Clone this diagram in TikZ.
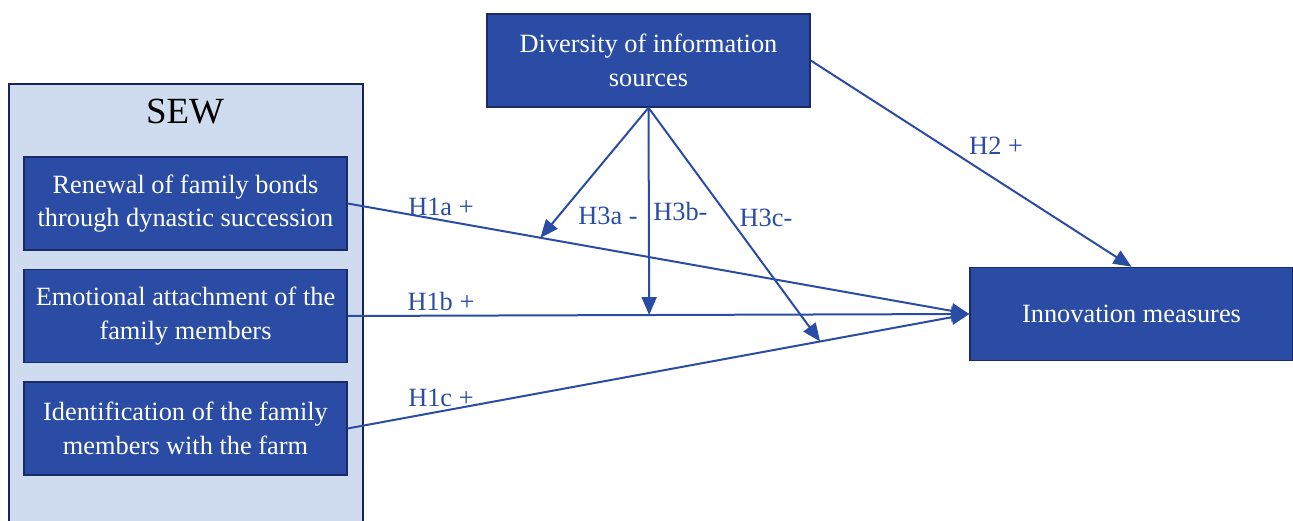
\documentclass[tikz,border=0pt]{standalone}
\usepackage{fontspec}
\setmainfont{Liberation Serif}
\usetikzlibrary{positioning, calc, arrows.meta}
\definecolor{boxblue}{HTML}{2A4CA4}
\definecolor{boxedge}{HTML}{1C2A66}
\definecolor{sewfill}{HTML}{CFDBEE}
\definecolor{linkblue}{HTML}{2A4CA4}
\tikzset{
  every node/.style={font=\fontsize{15}{19}\selectfont},
  every path/.style={line width=0.4mm},
  box/.style={rectangle, fill=boxblue, draw=boxedge, text=white, minimum width=6.46cm, minimum height=1.86cm, align=center, line width=0.3mm},
  link/.style={draw=linkblue, -{Triangle[length=0.36cm, width=0.3cm]}},
  hyp/.style={text=linkblue, inner sep=2pt}
}

\begin{document}
\begin{tikzpicture}[x=0.02cm, y=-0.02cm]
  \useasboundingbox (0,0) rectangle (1293,520);
  % SEW group
  \node (sew) [rectangle, fill=sewfill, draw=boxedge!85!black, line width=0.4mm, minimum width=7.08cm, minimum height=9.2cm, anchor=north west] at (8,83) {};
  \node (sewtitle) at (185,112) {\fontsize{21}{25}\selectfont SEW};
  \node (renewal) [box] at (185.5,203.5) {Renewal of family bonds\\through dynastic succession};
  \node (emotion) [box, below=0.36cm of renewal] {Emotional attachment of the\\family members};
  \node (ident) [box, below=0.36cm of emotion] {Identification of the family\\members with the farm};
  % other constructs
  \node (diversity) [box] at (648.5,60.5) {Diversity of information\\sources};
  \node (innov) [box] at (1131.5,314) {Innovation measures};

  \coordinate (h3a) at ($(renewal.east)!0.31!(innov.west)$);
  \coordinate (h3b) at ($(emotion.east)!0.485!(innov.west)$);
  \coordinate (h3c) at ($(ident.east)!0.76!(innov.west)$);

  \draw[link] (renewal.east) -- node[hyp, pos=0.15, above] {H1a +} (innov.west);
  \draw[link] (emotion.east) -- node[hyp, pos=0.15, above] {H1b +} (innov.west);
  \draw[link] (ident.east) -- node[hyp, pos=0.15, above] {H1c +} (innov.west);
  \draw[link] (diversity.east) -- node[hyp, pos=0.48, above right] {H2 +} (innov.north);
  \draw[link] (diversity.south) -- node[hyp, pos=0.83, right, xshift=0.3cm] {H3a -} (h3a);
  \draw[link] (diversity.south) -- node[hyp, pos=0.5, right] {H3b-} (h3b);
  \draw[link] (diversity.south) -- node[hyp, pos=0.47, right, xshift=0.12cm] {H3c-} (h3c);
\end{tikzpicture}
\end{document}
